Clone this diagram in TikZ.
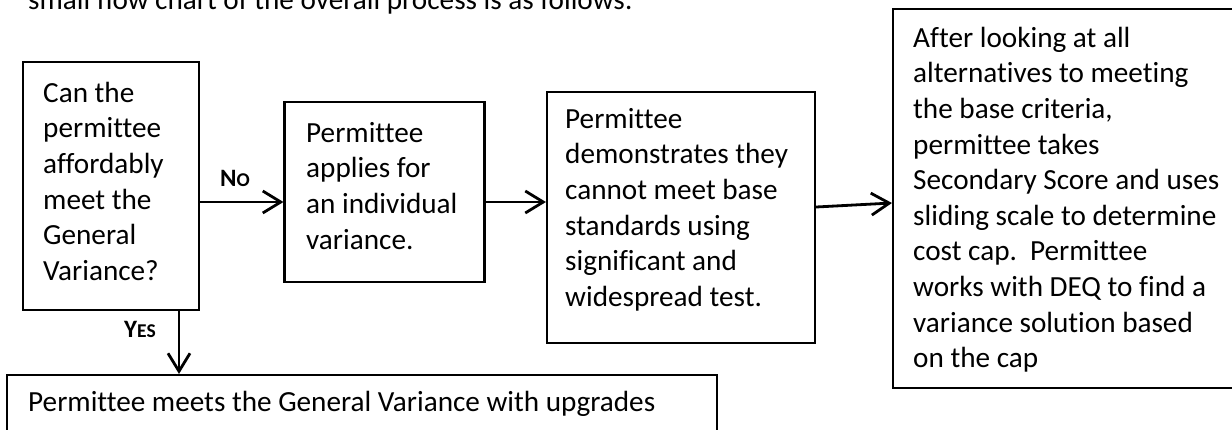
\documentclass[tikz,border=0pt]{standalone}
\usepackage{fontspec}
\setmainfont{Carlito}[Ligatures={NoCommon,NoContextual}]
\usetikzlibrary{arrows.meta}
\begin{document}
\begin{tikzpicture}[x=1pt,y=-1pt,
  box/.style={draw=black,line width=2.1pt,inner sep=0pt,fill=none},
  txt/.style={anchor=north west,inner sep=0pt,align=left,font=\fontsize{29.2}{35.6}\selectfont},
  lbl/.style={anchor=base west,inner sep=0pt,font=\fontsize{25}{25}\selectfont\bfseries},
  arr/.style={line width=2.8pt,-{Straight Barb[length=18pt,width=22pt]}}]
\useasboundingbox (0,0) rectangle (1232,429);
\clip (0,0) rectangle (1232,429);
% heading (clipped at the top)
\node[anchor=base west,inner sep=0pt,font=\fontsize{29.2}{35.6}\selectfont] (head) at (28,9) {small flow chart of the overall process is as follows:};
% boxes
\node[box,minimum width=176pt,minimum height=248pt] (b1) at (111,186) {};
\node[box,minimum width=200pt,minimum height=180pt] (b2) at (384.5,192) {};
\node[box,minimum width=268pt,minimum height=251pt] (b3) at (681,217.5) {};
\node[box,minimum width=352pt,minimum height=379pt] (b4) at (1069,198.5) {};
\node[box,minimum width=710pt,minimum height=75pt] (b5) at (362,412.5) {};
% texts
\node[txt] (t1) at (43,78) {\rule{0pt}{24pt}Can the\\permittee\\affordably\\meet the\\General\\Variance?};
\node[txt] (t2) at (306,118) {\rule{0pt}{24pt}Permittee\\applies for\\an individual\\variance.};
\node[txt] (t3) at (565,104) {\rule{0pt}{24pt}Permittee\\demonstrates they\\cannot meet base\\standards using\\significant and\\widespread test.};
\node[txt] (t4) at (913,23) {\rule{0pt}{24pt}After looking at all\\alternatives to meeting\\the base criteria,\\permittee takes\\Secondary Score and uses\\sliding scale to determine\\cost cap.\ \ Permittee\\works with DEQ to find a\\variance solution based\\on the cap};
\node[txt] (t5) at (28,387) {\rule{0pt}{24pt}Permittee meets the General Variance with upgrades};
% labels
\node[lbl] (lno) at (220,186) {N{\fontsize{19.5}{19.5}\selectfont O}};
\node[lbl] (lyes) at (124,337) {Y{\fontsize{19.5}{19.5}\selectfont ES}};
% connectors
\draw[arr] ([yshift=-16pt]b1.east) -- ([yshift=-10pt]b2.west);
\draw[arr] ([yshift=-10pt]b2.east) -- ([yshift=15.5pt]b3.west);
\draw[arr] ([yshift=10.5pt]b3.east) -- ([yshift=-4.5pt]b4.west);
\draw[arr] ([xshift=68pt]b1.south) -- ([xshift=68pt]b1.south |- b5.north);
\end{tikzpicture}
\end{document}
